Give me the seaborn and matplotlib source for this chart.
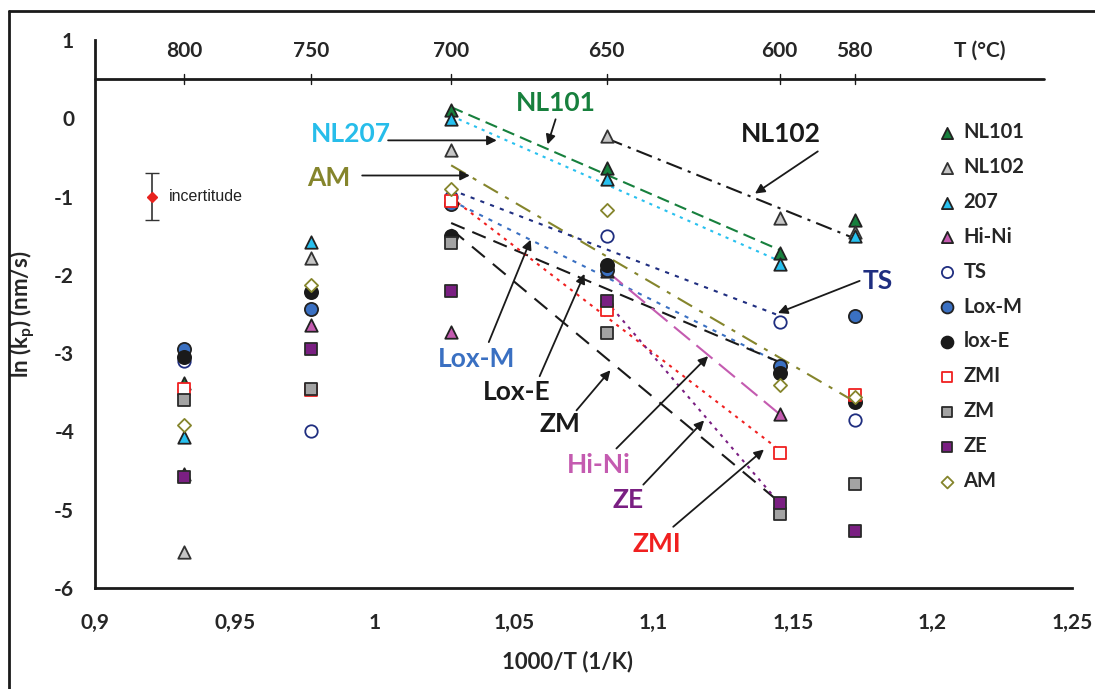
import numpy as np
import pandas as pd
import matplotlib
matplotlib.use("Agg")
import matplotlib.pyplot as plt
import seaborn as sns
from matplotlib.lines import Line2D

# temperatures (°C) of the measurement columns
temps = [800, 750, 700, 650, 600, 580]

# ln(kp) values per alloy, one value per temperature (nan = not shown)
nl101 = [-3.38, np.nan, 0.10, -0.64, -1.72, -1.30]
nl102 = [-5.54, -1.78, -0.40, -0.22, -1.27, -1.45]
s207 = [-4.07, -1.58, -0.01, -0.77, -1.86, -1.51]
hini = [-4.55, -2.64, -2.73, -1.95, -3.78, np.nan]
ts = [-3.10, -3.99, -1.00, -1.51, -2.60, -3.86]
loxm = [-2.95, -2.43, -1.10, -1.94, -3.17, -2.53]
loxe = [-3.05, -2.22, -1.50, -1.87, -3.26, -3.62]
zmi = [-3.46, -3.47, -1.06, -2.45, -4.28, -3.53]
zm = [-3.60, -3.46, -1.59, -2.74, -5.06, -4.67]
ze = [-4.58, -2.95, -2.20, -2.34, -4.92, -5.27]
am = [-3.92, -2.13, -0.90, -1.17, -3.41, -3.56]

names = ["NL101", "NL102", "207", "Hi-Ni", "TS", "Lox-M", "lox-E", "ZMI", "ZM", "ZE", "AM"]
series = [nl101, nl102, s207, hini, ts, loxm, loxe, zmi, zm, ze, am]

# style: marker, face, edge, size
styles = {
    "NL101": ("^", "#17803d", "#222222", 80),
    "NL102": ("^", "#c6c6c6", "#333333", 80),
    "207": ("^", "#27c0ef", "#222222", 80),
    "Hi-Ni": ("^", "#c45bb0", "#222222", 80),
    "TS": ("o", "white", "#1f2e80", 80),
    "Lox-M": ("o", "#3a70c2", "#222222", 90),
    "lox-E": ("o", "#1a1a1a", "#1a1a1a", 90),
    "ZMI": ("s", "white", "#f02020", 65),
    "ZM": ("s", "#a3a3a3", "#2a2a2a", 65),
    "ZE": ("s", "#7a1f82", "#2a2a2a", 65),
    "AM": ("D", "white", "#85852c", 45),
}

# fitted ranges (column indices) and line styles
fits = [
    ("NL101", 2, 4, "#17803d", (0, (6, 3))),
    ("207", 2, 4, "#27c0ef", (0, (1.5, 2.5))),
    ("NL102", 3, 5, "#1a1a1a", (0, (8, 3, 1.5, 3))),
    ("AM", 2, 5, "#85852c", (0, (8, 4, 2, 4))),
    ("TS", 2, 4, "#1f2e80", (0, (2, 3))),
    ("Lox-M", 2, 4, "#3a70c2", (0, (2, 3))),
    ("lox-E", 2, 4, "#1a1a1a", (0, (7, 4))),
    ("ZMI", 2, 4, "#f02020", (0, (1.5, 2.5))),
    ("ZM", 2, 4, "#1a1a1a", (0, (8, 5))),
    ("Hi-Ni", 3, 4, "#c45bb0", (0, (10, 4))),
    ("ZE", 3, 4, "#7a1f82", (0, (1.5, 2.5))),
]

invT = 1000.0 / (np.array(temps) + 273.15)

df = pd.DataFrame({"x": np.tile(invT, len(names)),
                   "y": np.concatenate(series),
                   "serie": np.repeat(names, len(temps))})

sns.set_style("white")
plt.rcParams["font.family"] = ["Lato", "DejaVu Sans"]
plt.rcParams["font.weight"] = "bold"
plt.rcParams["mathtext.fontset"] = "custom"
plt.rcParams["mathtext.rm"] = "Lato:bold"
plt.rcParams["mathtext.bf"] = "Lato:bold"

fig = plt.figure(figsize=(10.95, 6.89), dpi=100)
ax = fig.add_axes([95 / 1095, 101 / 689, 977 / 1095, 548 / 689])

# trend lines
for nm, i0, i1, col, ls in fits:
    yy = np.array(series[names.index(nm)])
    xs, ys = invT[i0:i1 + 1], yy[i0:i1 + 1]
    p = np.polyfit(xs, ys, 1)
    ax.plot([xs[0], xs[-1]], np.polyval(p, [xs[0], xs[-1]]), color=col, ls=ls, lw=1.5, zorder=2)

for nm in names:
    mk, fc, ec, s = styles[nm]
    sns.scatterplot(data=df[df.serie == nm], x="x", y="y", marker=mk, color=fc,
                    edgecolor=ec, linewidth=1.3, s=s, label=nm, ax=ax, zorder=3)

# uncertainty marker
ax.errorbar([0.9204], [-1.0], yerr=[0.3], fmt="D", color="#333333", mfc="#e8231f",
            mec="#e8231f", ms=5, capsize=5, lw=1.2, zorder=4)
ax.text(0.9265, -1.0, "incertitude", family="Liberation Sans", weight="normal",
        fontsize=11.5, color="#222222", va="center")

# top temperature scale
ax.plot([0.9, 1.24], [0.5, 0.5], color="#1a1a1a", lw=2, zorder=1, clip_on=False)
for t, xv in zip(temps, invT):
    ax.plot([xv, xv], [0.44, 0.56], color="#1a1a1a", lw=1, clip_on=False)
    ax.text(xv, 0.86, str(t), ha="center", va="center", fontsize=15, fontweight="bold")
ax.text(1.217, 0.86, "T (°C)", ha="center", va="center", fontsize=15, fontweight="bold")

def px(x, y):
    return 0.9 + (x - 95) / 2800, (117 - y) / 78

# labels with arrows
notes = [
    ("NL207", "#27bdea", (352, 133), (389, 139), (498, 139)),
    ("AM", "#85852c", (329, 176), (363, 174), (471, 174)),
    ("NL101", "#17803d", (557, 102), (557, 118), (549, 143)),
    ("NL102", "#1a1a1a", (783, 133), (820, 150), (757, 192)),
    ("TS", "#1f2e80", (880, 279), (862, 279), (780, 311)),
    ("Lox-M", "#3a70c2", (478, 357), (490, 340), (532, 238)),
    ("Lox-E", "#1a1a1a", (518, 390), (541, 374), (586, 272)),
    ("ZM", "#1a1a1a", (561, 422), (578, 408), (612, 368)),
    ("Hi-Ni", "#c45bb0", (600, 462), (618, 446), (710, 354)),
    ("ZE", "#7a1f82", (630, 497), (645, 482), (706, 418)),
    ("ZMI", "#f02020", (659, 541), (675, 524), (766, 447)),
]
for txt, col, tp, a0, a1 in notes:
    ax.text(*px(*tp), txt, color=col, fontsize=19, fontweight="bold", ha="center", va="center")
    ax.annotate("", xy=px(*a1), xytext=px(*a0),
                arrowprops=dict(arrowstyle="-|>", color="#1a1a1a", lw=1.3,
                                mutation_scale=14, shrinkA=0, shrinkB=0))

ax.set_xlim(0.9, 1.25)
ax.set_ylim(-6, 1)
ax.set_xticks(np.arange(0.9, 1.2501, 0.05))
ax.set_xticklabels(["0,9", "0,95", "1", "1,05", "1,1", "1,15", "1,2", "1,25"],
                   fontsize=15, fontweight="bold")
ax.set_yticks(range(-6, 2))
ax.set_yticklabels([str(v) for v in range(-6, 2)], fontsize=15, fontweight="bold")
ax.tick_params(axis="both", direction="out", length=7, width=1.5, color="#1a1a1a", pad=8)
ax.tick_params(axis="x", pad=11)
for sp in ["top", "right"]:
    ax.spines[sp].set_visible(False)
for sp in ["left", "bottom"]:
    ax.spines[sp].set_linewidth(2)
    ax.spines[sp].set_color("#1a1a1a")
ax.set_xlabel("1000/T (1/K)", fontsize=16, fontweight="bold", labelpad=6)
ax.xaxis.set_label_coords((567 - 95) / 977, -0.115)
ax.set_ylabel(r"ln (k$_{\mathrm{p}}$) (nm/s)", fontsize=16, fontweight="bold", labelpad=12)

leg = ax.legend(loc="upper left", bbox_to_anchor=(925 / 1095, 1 - 112 / 689),
                bbox_transform=fig.transFigure, frameon=False,
                prop={"size": 14.5, "weight": "bold"},
                labelspacing=0.74, handletextpad=0.2, borderpad=0, markerscale=0.9,
                handlelength=1.2)

# outer frame of the picture
fig.add_artist(Line2D([9 / 1095, 9 / 1095], [0, 1 - 11 / 689], color="#1a1a1a", lw=2))
fig.add_artist(Line2D([9 / 1095, 1], [1 - 11 / 689, 1 - 11 / 689], color="#1a1a1a", lw=2))

plt.savefig("out.png", dpi=100)
